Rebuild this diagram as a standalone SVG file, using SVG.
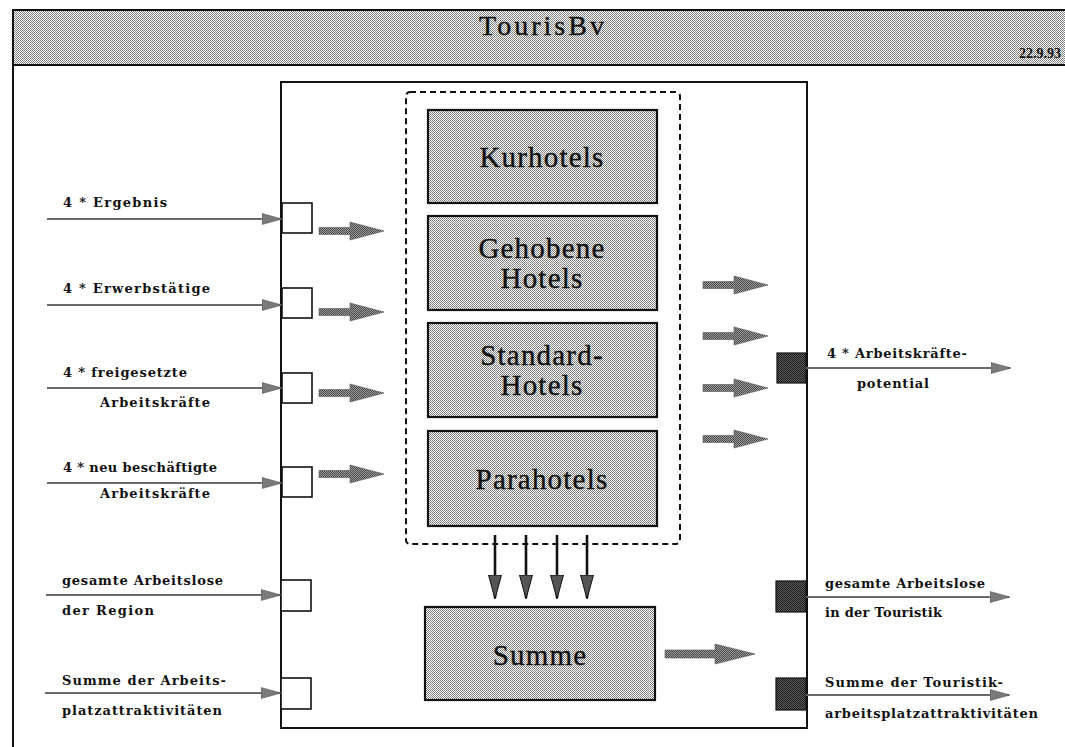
<svg xmlns="http://www.w3.org/2000/svg" width="1065" height="747" viewBox="0 0 1065 747">
  <defs>
    <!-- halftone fills -->
    <pattern id="dither" width="2" height="2" patternUnits="userSpaceOnUse">
      <rect width="2" height="2" fill="#ffffff"/>
      <rect x="0" y="0" width="1" height="1" fill="#7a7a7a"/>
      <rect x="1" y="1" width="1" height="1" fill="#8a8a8a"/>
    </pattern>
    <pattern id="ditherDark" width="2" height="2" patternUnits="userSpaceOnUse">
      <rect width="2" height="2" fill="#9a9a9a"/>
      <rect x="0" y="0" width="1" height="1" fill="#4a4a4a"/>
      <rect x="1" y="1" width="1" height="1" fill="#4a4a4a"/>
    </pattern>
    <pattern id="ditherPort" width="2" height="2" patternUnits="userSpaceOnUse">
      <rect width="2" height="2" fill="#5a5a5a"/>
      <rect x="0" y="0" width="1" height="1" fill="#1e1e1e"/>
      <rect x="1" y="1" width="1" height="1" fill="#1e1e1e"/>
    </pattern>
    <!-- heads for the thin signal lines -->
    <marker id="headGray" markerWidth="20" markerHeight="12" refX="19" refY="6" orient="auto" markerUnits="userSpaceOnUse">
      <path d="M0,0.5 L20,6 L0,11.5 Z" fill="#7a7a7a" stroke="#555" stroke-width="0.6"/>
    </marker>
    <marker id="headDown" markerWidth="24" markerHeight="14" refX="23" refY="7" orient="auto" markerUnits="userSpaceOnUse">
      <path d="M0,0.5 L24,7 L0,13.5 Z" fill="#555" stroke="#111" stroke-width="1"/>
    </marker>
    <!-- thick block arrow pointing right, origin at tail centre -->
    <path id="blockArrow" d="M0,-3.5 H31 V-9 L65,0 L31,9 V3.5 H0 Z"/>
    <path id="blockArrowLong" d="M0,-4 H50 V-10 L90,0 L50,10 V4 H0 Z"/>
  </defs>
  <style>
    .frame { fill: none; stroke: #111; stroke-width: 2; }
    .hotel { fill: url(#dither); stroke: #111; stroke-width: 2.2; }
    .inPort { fill: #ffffff; stroke: #111; stroke-width: 1.6; }
    .outPort { fill: url(#ditherPort); stroke: #111; stroke-width: 1.2; }
    .sig { stroke: #6a6a6a; stroke-width: 2.2; fill: none; marker-end: url(#headGray); }
    .down { stroke: #111; stroke-width: 2.6; fill: none; marker-end: url(#headDown); }
    .block { fill: url(#ditherDark); stroke: #555; stroke-width: 0.6; }
    .boxText { font-family: "Liberation Serif", "DejaVu Serif", serif; font-size: 29px; fill: #111; stroke: #111; stroke-width: 0.4; text-anchor: middle; letter-spacing: 1.2px; }
    .lbl { font-family: "DejaVu Serif", "Liberation Serif", serif; font-weight: bold; font-size: 13px; fill: #111; }
  </style>

  <!-- page frame and title band -->
  <g id="titleBar">
    <rect x="13" y="10" width="1060" height="55" fill="url(#dither)" stroke="#111" stroke-width="2"/>
    <line x1="13" y1="10" x2="13" y2="747" stroke="#111" stroke-width="2"/>
    <text x="543" y="35" font-family="Liberation Serif, serif" font-size="28" fill="#111" stroke="#111" stroke-width="0.4" text-anchor="middle" letter-spacing="3">TourisBv</text>
    <text x="1061" y="58" font-family="Liberation Serif, serif" font-weight="bold" font-size="14" fill="#111" text-anchor="end">22.9.93</text>
  </g>

  <!-- module body -->
  <g id="module">
    <rect x="281" y="82" width="526" height="646" class="frame"/>
    <rect x="406" y="92" width="274" height="452" rx="4" fill="none" stroke="#111" stroke-width="2" stroke-dasharray="6,4"/>
  </g>

  <g id="kurhotels">
    <rect x="428" y="110" width="229" height="93" class="hotel"/>
    <text x="542" y="167" class="boxText">Kurhotels</text>
  </g>
  <g id="gehobeneHotels">
    <rect x="428" y="216" width="229" height="94" class="hotel"/>
    <text x="542" y="258" class="boxText">Gehobene</text>
    <text x="542" y="288" class="boxText">Hotels</text>
  </g>
  <g id="standardHotels">
    <rect x="428" y="323" width="229" height="94" class="hotel"/>
    <text x="542" y="365" class="boxText">Standard-</text>
    <text x="542" y="395" class="boxText">Hotels</text>
  </g>
  <g id="parahotels">
    <rect x="428" y="431" width="229" height="95" class="hotel"/>
    <text x="542" y="489" class="boxText">Parahotels</text>
  </g>
  <g id="summe">
    <rect x="425" y="607" width="230" height="93" class="hotel"/>
    <text x="540" y="665" class="boxText">Summe</text>
  </g>

  <!-- input ports -->
  <g id="inPorts">
    <rect x="282" y="203" width="30" height="30" class="inPort"/>
    <rect x="282" y="288" width="30" height="30" class="inPort"/>
    <rect x="282" y="373" width="30" height="30" class="inPort"/>
    <rect x="282" y="467" width="30" height="30" class="inPort"/>
    <rect x="281" y="580" width="30" height="31" class="inPort"/>
    <rect x="281" y="678" width="30" height="31" class="inPort"/>
  </g>

  <!-- output ports -->
  <g id="outPorts">
    <rect x="777" y="353" width="29" height="30" class="outPort"/>
    <rect x="776" y="581" width="30" height="31" class="outPort"/>
    <rect x="776" y="678" width="30" height="32" class="outPort"/>
  </g>

  <g id="connectors">
    <!-- incoming signals -->
    <line x1="47" y1="219" x2="281" y2="219" class="sig"/>
    <line x1="47" y1="305" x2="281" y2="305" class="sig"/>
    <line x1="47" y1="388" x2="281" y2="388" class="sig"/>
    <line x1="47" y1="483" x2="281" y2="483" class="sig"/>
    <line x1="46" y1="595" x2="280" y2="595" class="sig"/>
    <line x1="45" y1="693" x2="280" y2="693" class="sig"/>
    <!-- outgoing signals -->
    <line x1="806" y1="368" x2="1010" y2="368" class="sig"/>
    <line x1="806" y1="597" x2="1009" y2="597" class="sig"/>
    <line x1="806" y1="695" x2="1009" y2="695" class="sig"/>
    <!-- flow into the hotel group -->
    <use href="#blockArrow" x="319" y="231" class="block"/>
    <use href="#blockArrow" x="319" y="312" class="block"/>
    <use href="#blockArrow" x="319" y="393" class="block"/>
    <use href="#blockArrow" x="319" y="474" class="block"/>
    <!-- flow out of the hotel group -->
    <use href="#blockArrow" x="703" y="285" class="block"/>
    <use href="#blockArrow" x="703" y="336" class="block"/>
    <use href="#blockArrow" x="703" y="388" class="block"/>
    <use href="#blockArrow" x="703" y="439" class="block"/>
    <!-- hotel totals into Summe -->
    <line x1="495" y1="535" x2="495" y2="598" class="down"/>
    <line x1="526" y1="535" x2="526" y2="598" class="down"/>
    <line x1="557" y1="535" x2="557" y2="598" class="down"/>
    <line x1="587" y1="535" x2="587" y2="598" class="down"/>
    <!-- Summe result -->
    <use href="#blockArrowLong" x="665" y="654" class="block"/>
  </g>

  <!-- signal labels -->
  <g id="labels">
    <text x="63" y="207" class="lbl" textLength="104" lengthAdjust="spacing">4 * Ergebnis</text>
    <text x="63" y="293" class="lbl" textLength="147" lengthAdjust="spacing">4 * Erwerbstätige</text>
    <text x="63" y="377" class="lbl" textLength="124" lengthAdjust="spacing">4 * freigesetzte</text>
    <text x="100" y="407" class="lbl" textLength="110" lengthAdjust="spacing">Arbeitskräfte</text>
    <text x="63" y="472" class="lbl" textLength="154" lengthAdjust="spacing">4 * neu beschäftigte</text>
    <text x="100" y="498" class="lbl" textLength="110" lengthAdjust="spacing">Arbeitskräfte</text>
    <text x="62" y="585" class="lbl" textLength="161" lengthAdjust="spacing">gesamte Arbeitslose</text>
    <text x="62" y="615" class="lbl" textLength="92" lengthAdjust="spacing">der Region</text>
    <text x="62" y="685" class="lbl" textLength="164" lengthAdjust="spacing">Summe der Arbeits-</text>
    <text x="62" y="715" class="lbl" textLength="160" lengthAdjust="spacing">platzattraktivitäten</text>
    <text x="827" y="358" class="lbl" textLength="140" lengthAdjust="spacing">4 * Arbeitskräfte-</text>
    <text x="857" y="388" class="lbl" textLength="72" lengthAdjust="spacing">potential</text>
    <text x="825" y="588" class="lbl" textLength="160" lengthAdjust="spacing">gesamte Arbeitslose</text>
    <text x="825" y="617" class="lbl" textLength="117" lengthAdjust="spacing">in der Touristik</text>
    <text x="825" y="687" class="lbl" textLength="178" lengthAdjust="spacing">Summe der Touristik-</text>
    <text x="825" y="718" class="lbl" textLength="213" lengthAdjust="spacing">arbeitsplatzattraktivitäten</text>
  </g>
</svg>
